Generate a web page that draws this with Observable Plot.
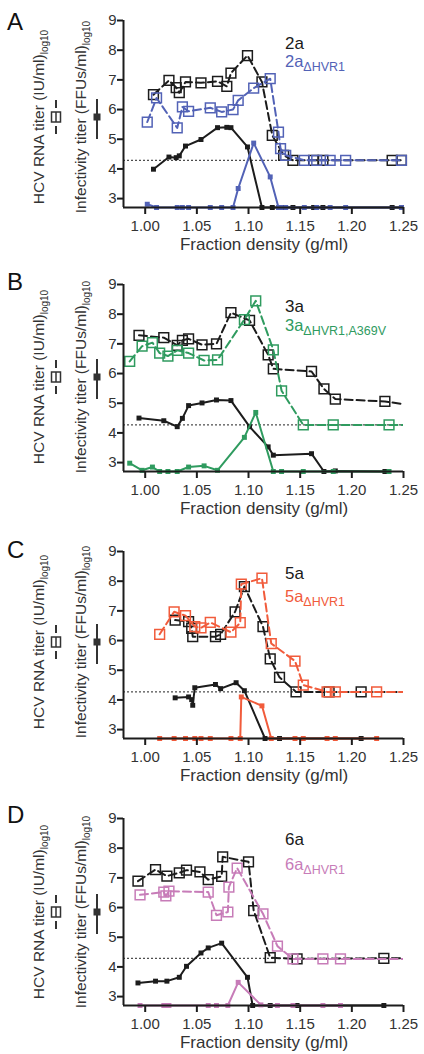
<!DOCTYPE html>
<html>
<head>
<meta charset="utf-8">
<script src="https://cdn.jsdelivr.net/npm/d3@7"></script>
<script src="https://cdn.jsdelivr.net/npm/@observablehq/plot@0.6"></script>
<style>
  body { margin: 0; background: #fff; font-family: "Liberation Sans", Arial, Helvetica, sans-serif; }
  #fig { width: 424px; }
  #fig svg { display: block; }
</style>
</head>
<body>
<div id="fig"></div>
<script>
// Shared axis ticks
const xTicks = [1.00, 1.05, 1.10, 1.15, 1.20, 1.25];
const yTicks = [3, 4, 5, 6, 7, 8, 9];

// Panel labels and colours
const panelLetters = ["A", "B", "C", "D"];
const strainNames = ["2a", "3a", "5a", "6a"];
const variantSubs = ["\u0394HVR1", "\u0394HVR1,A369V", "\u0394HVR1", "\u0394HVR1"];
const variantColors = ["#5262b6", "#2f9b5f", "#f15b3b", "#c77cb8"];
const detectionLimit = [4.29, 4.27, 4.27, 4.29];

// ---- Genotype 2a ----
const wt2a_x   = [1.008, 1.023, 1.030, 1.033, 1.039, 1.054, 1.070, 1.079, 1.083, 1.099, 1.113, 1.123, 1.134, 1.143, 1.163, 1.172, 1.239, 1.248];
const wt2a_rna = [6.50, 6.98, 6.74, 6.57, 6.93, 6.90, 6.95, 6.78, 7.23, 7.82, 6.93, 5.13, 4.46, 4.29, 4.29, 4.29, 4.29, 4.29];
const wt2a_infx = wt2a_x;
const wt2a_inf = [3.99, 4.40, 4.38, 4.44, 4.77, 4.99, 5.39, 5.40, 5.39, 4.74, 2.70, 2.70, 2.70, 2.70, 2.70, 2.70, 2.70, 2.70];
const mut2a_x   = [1.002, 1.011, 1.031, 1.036, 1.042, 1.063, 1.074, 1.085, 1.090, 1.105, 1.121, 1.129, 1.131, 1.136, 1.154, 1.166, 1.179, 1.194, 1.248];
const mut2a_rna = [5.58, 6.39, 5.38, 6.09, 5.94, 6.06, 5.92, 6.00, 6.31, 6.72, 7.04, 5.24, 4.68, 4.46, 4.29, 4.29, 4.29, 4.29, 4.29];
const mut2a_infx = mut2a_x;
const mut2a_inf = [2.81, 2.70, 2.70, 2.70, 2.70, 2.70, 2.70, 2.70, 3.34, 4.87, 3.73, 2.70, 2.70, 2.70, 2.70, 2.70, 2.70, 2.70, 2.70];

// ---- Genotype 3a ----
const wt3a_x   = [0.994, 1.018, 1.031, 1.036, 1.042, 1.055, 1.069, 1.083, 1.101, 1.119, 1.124, 1.161, 1.173, 1.184, 1.232, 1.258];
const wt3a_rna = [7.29, 7.21, 6.95, 7.12, 7.17, 6.97, 7.00, 8.05, 7.79, 6.63, 6.16, 6.07, 5.48, 5.14, 5.06, 4.93];
const wt3a_infx = [0.994, 1.018, 1.031, 1.036, 1.042, 1.055, 1.069, 1.083, 1.101, 1.119, 1.124, 1.161, 1.173, 1.184, 1.232];
const wt3a_inf = [4.50, 4.41, 4.21, 4.49, 4.92, 5.01, 5.11, 5.09, 4.21, 3.53, 3.25, 3.30, 2.70, 2.72, 2.70];
const mut3a_x   = [0.985, 0.997, 1.007, 1.014, 1.022, 1.031, 1.042, 1.057, 1.070, 1.096, 1.107, 1.124, 1.132, 1.153, 1.182, 1.236, 1.258];
const mut3a_rna = [6.41, 6.92, 7.04, 6.69, 6.59, 6.78, 6.69, 6.44, 6.46, 7.82, 8.45, 6.80, 5.42, 4.27, 4.27, 4.27, 4.27];
const mut3a_infx = [0.985, 0.997, 1.007, 1.014, 1.022, 1.031, 1.042, 1.057, 1.070, 1.096, 1.107, 1.124, 1.132, 1.153, 1.182, 1.236];
const mut3a_inf = [2.98, 2.74, 2.85, 2.70, 2.70, 2.70, 2.85, 2.89, 2.74, 3.85, 4.69, 2.70, 2.70, 2.70, 2.70, 2.70];

// ---- Genotype 5a ----
const wt5a_x   = [1.029, 1.042, 1.045, 1.046, 1.068, 1.073, 1.087, 1.096, 1.114, 1.121, 1.130, 1.146, 1.178, 1.209, 1.258];
const wt5a_rna = [6.69, 6.64, 6.41, 6.13, 6.13, 6.21, 6.97, 7.82, 6.47, 5.38, 4.76, 4.27, 4.27, 4.27, 4.27];
const wt5a_infx = [1.029, 1.042, 1.045, 1.046, 1.048, 1.068, 1.073, 1.088, 1.096, 1.116, 1.130, 1.209];
const wt5a_inf = [4.07, 4.10, 4.01, 3.82, 4.41, 4.52, 4.38, 4.58, 4.31, 2.70, 2.70, 2.70];
const mut5a_x   = [1.014, 1.028, 1.039, 1.048, 1.054, 1.063, 1.083, 1.092, 1.093, 1.113, 1.122, 1.145, 1.153, 1.176, 1.184, 1.224, 1.258];
const mut5a_rna = [6.21, 6.97, 6.84, 6.47, 6.43, 6.61, 6.28, 6.60, 7.90, 8.10, 5.90, 5.31, 4.50, 4.27, 4.27, 4.27, 4.27];
const mut5a_infx = [1.014, 1.028, 1.039, 1.048, 1.054, 1.063, 1.083, 1.092, 1.093, 1.113, 1.122, 1.145, 1.153, 1.176, 1.184, 1.224];
const mut5a_inf = [2.70, 2.70, 2.70, 2.70, 2.70, 2.70, 2.70, 2.70, 4.10, 3.80, 2.70, 2.70, 2.70, 2.70, 2.70, 2.70];

// ---- Genotype 6a ----
const wt6a_x   = [0.993, 1.010, 1.021, 1.033, 1.040, 1.053, 1.061, 1.074, 1.075, 1.100, 1.105, 1.121, 1.147, 1.231, 1.258];
const wt6a_rna = [6.89, 7.28, 7.06, 7.17, 7.26, 7.20, 6.94, 7.05, 7.71, 7.54, 5.90, 4.31, 4.27, 4.29, 4.29];
const wt6a_infx = [0.993, 1.010, 1.021, 1.033, 1.040, 1.054, 1.061, 1.074, 1.099, 1.104, 1.121, 1.147, 1.231];
const wt6a_inf = [3.46, 3.52, 3.52, 3.65, 4.02, 4.47, 4.64, 4.80, 3.65, 2.70, 2.70, 2.70, 2.70];
const mut6a_x   = [0.995, 1.018, 1.020, 1.023, 1.061, 1.069, 1.080, 1.081, 1.089, 1.114, 1.128, 1.143, 1.172, 1.189, 1.258];
const mut6a_rna = [6.43, 6.52, 6.39, 6.55, 6.52, 5.74, 5.85, 6.69, 7.33, 5.79, 4.70, 4.27, 4.27, 4.27, 4.27];
const mut6a_infx = [0.995, 1.018, 1.020, 1.023, 1.061, 1.069, 1.080, 1.090, 1.112, 1.128, 1.143, 1.172, 1.189];
const mut6a_inf = [2.70, 2.70, 2.70, 2.70, 2.70, 2.70, 2.70, 3.48, 2.72, 2.70, 2.70, 2.70, 2.70];

const panels = [
  {wt: [wt2a_x, wt2a_rna, wt2a_infx, wt2a_inf], mut: [mut2a_x, mut2a_rna, mut2a_infx, mut2a_inf], height: 264, labelY: [8.02, 7.40], letterY: 30, titleY: 117},
  {wt: [wt3a_x, wt3a_rna, wt3a_infx, wt3a_inf], mut: [mut3a_x, mut3a_rna, mut3a_infx, mut3a_inf], height: 267, labelY: [8.06, 7.40], letterY: 26, titleY: 113},
  {wt: [wt5a_x, wt5a_rna, wt5a_infx, wt5a_inf], mut: [mut5a_x, mut5a_rna, mut5a_infx, mut5a_inf], height: 267, labelY: [8.04, 7.29], letterY: 27, titleY: 111},
  {wt: [wt6a_x, wt6a_rna, wt6a_infx, wt6a_inf], mut: [mut6a_x, mut6a_rna, mut6a_infx, mut6a_inf], height: 256, labelY: [8.1, 7.25], letterY: 25, titleY: 114}
];

const X0 = 0.979, X1 = 1.25, Y0 = 2.7, Y1 = 9;
const FONT = "'Liberation Sans', Arial, Helvetica, sans-serif";
const BLACK = "#1c1c1c";

const zip = (xs, ys) => xs.map((x, i) => ({x, y: ys[i]}));

// Infectivity: solid line with filled squares; RNA: dashed line with open squares
function seriesMarks([xr, rna, xi, inf], color) {
  const r = zip(xr, rna), f = zip(xi, inf);
  return [
    Plot.line(f, {x: "x", y: "y", stroke: color, strokeWidth: 2}),
    Plot.dot(f, {x: "x", y: "y", symbol: "square", r: 2.8, fill: color, stroke: "none"}),
    Plot.line(r, {x: "x", y: "y", stroke: color, strokeWidth: 2, strokeDasharray: "8,4", clip: true}),
    Plot.dot(r.filter(d => d.x <= X1), {x: "x", y: "y", symbol: "square", r: 5.5, fill: "none", stroke: color, strokeWidth: 1.5})
  ];
}

panels.forEach((p, k) => {
  const color = variantColors[k];
  const plot = Plot.plot({
    width: 424,
    height: p.height,
    marginLeft: 123,
    marginRight: 21,
    marginTop: 20,
    marginBottom: p.height - 207,
    x: {domain: [X0, X1]},
    y: {domain: [Y0, Y1]},
    style: {fontFamily: FONT, fontSize: "15px", color: "#333", background: "white", overflow: "visible"},
    marks: [
      Plot.ruleY([detectionLimit[k]], {x1: X0, x2: X1, stroke: "#222", strokeWidth: 1, strokeDasharray: "2,2"}),
      ...seriesMarks(p.wt, BLACK),
      ...seriesMarks(p.mut, color),
      Plot.axisX({ticks: xTicks, tickFormat: d3.format(".2f"), tickSize: 7, tickPadding: 6, strokeWidth: 2, stroke: BLACK, label: null}),
      Plot.axisY({ticks: yTicks, tickFormat: d3.format("d"), tickSize: 6, tickPadding: 1, strokeWidth: 2, stroke: BLACK, label: null}),
      Plot.ruleX([X0], {y1: Y0, y2: Y1, stroke: BLACK, strokeWidth: 2}),
      Plot.ruleY([Y0], {x1: X0, x2: X1, stroke: BLACK, strokeWidth: 2})
    ]
  });

  const svg = d3.select(plot);
  const sx = plot.scale("x").apply, sy = plot.scale("y").apply;
  const midY = p.titleY;

  // Panel letter
  svg.append("text").attr("x", 7).attr("y", p.letterY).attr("text-anchor", "start")
    .attr("font-family", FONT).attr("font-size", 24).attr("fill", "#111")
    .text(panelLetters[k]);

  // Rotated y-axis titles with log10 subscripts
  const ytitle = (x, main) => {
    const t = svg.append("text")
      .attr("transform", `translate(${x},${midY}) rotate(-90)`)
      .attr("text-anchor", "middle")
      .attr("font-family", FONT).attr("font-size", 15.5).attr("fill", "#333");
    t.append("tspan").text(main);
    t.append("tspan").attr("font-size", 10).attr("dy", 4).text("log10");
  };
  ytitle(44, "HCV RNA titer (IU/ml)");
  ytitle(86, "Infectivity titer (FFUs/ml)");

  // Line-style keys between the titles
  const g = svg.append("g").attr("stroke", "#333").attr("stroke-width", 2).attr("fill", "none");
  g.append("line").attr("x1", 56).attr("x2", 56).attr("y1", midY - 17).attr("y2", midY - 9);
  g.append("line").attr("x1", 56).attr("x2", 56).attr("y1", midY + 9).attr("y2", midY + 17);
  g.append("line").attr("x1", 56).attr("x2", 56).attr("y1", midY - 5).attr("y2", midY + 5).attr("stroke-width", 1.5);
  g.append("rect").attr("x", 51.5).attr("y", midY - 5).attr("width", 9).attr("height", 10).attr("stroke-width", 1.5);
  g.append("line").attr("x1", 97).attr("x2", 97).attr("y1", midY - 18).attr("y2", midY + 22);
  g.append("rect").attr("x", 93.5).attr("y", midY - 3.5).attr("width", 7).attr("height", 7).attr("fill", "#333").attr("stroke", "none");

  // Strain labels
  const lx = 285;
  svg.append("text").attr("x", lx).attr("y", sy(p.labelY[0])).attr("text-anchor", "start")
    .attr("font-family", FONT).attr("font-size", 17).attr("fill", "#1a1a1a")
    .text(strainNames[k]);
  const vt = svg.append("text").attr("x", lx).attr("y", sy(p.labelY[1])).attr("text-anchor", "start")
    .attr("font-family", FONT).attr("font-size", 16.5).attr("fill", color);
  vt.append("tspan").text(strainNames[k]);
  vt.append("tspan").attr("font-size", 12.5).attr("dy", 4).text(variantSubs[k]);

  // x-axis title
  svg.append("text").attr("x", (sx(X0) + sx(X1)) / 2 + 1).attr("y", 250)
    .attr("text-anchor", "middle").attr("font-family", FONT).attr("font-size", 17).attr("fill", "#333")
    .text("Fraction density (g/ml)");

  document.getElementById("fig").appendChild(plot);
});
</script>
</body>
</html>
